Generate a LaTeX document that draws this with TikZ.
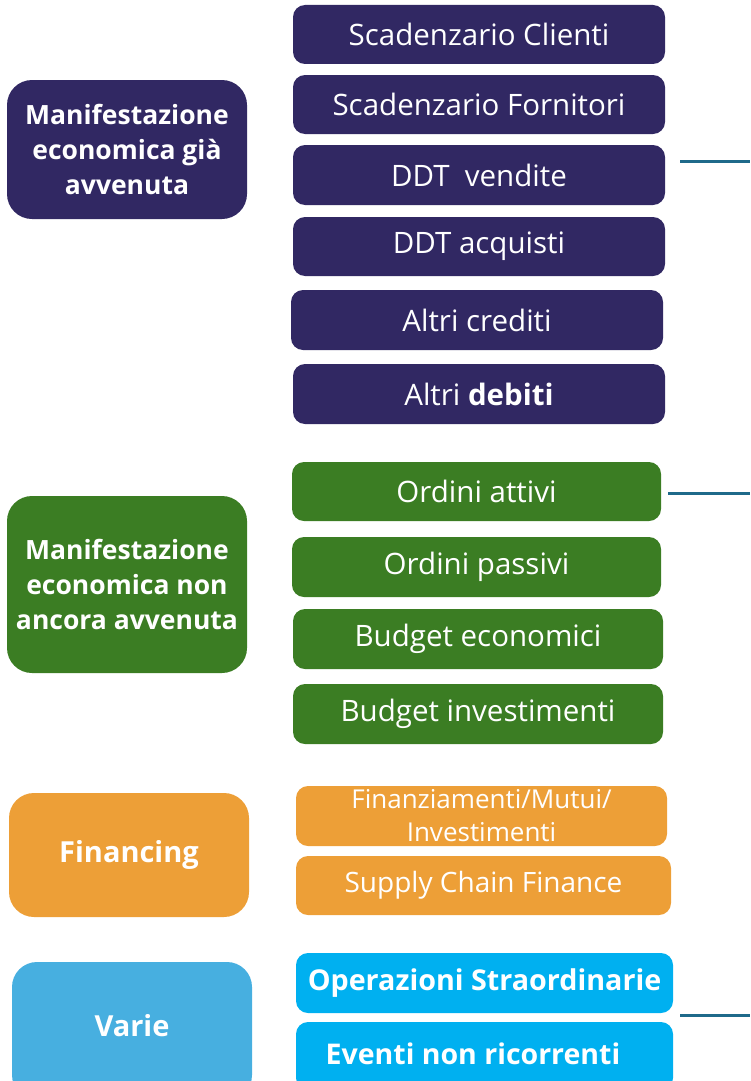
\documentclass[tikz,border=0pt]{standalone}
\usepackage{fontspec}
\setmainfont{Open Sans}
\usetikzlibrary{positioning}
\definecolor{cpurple}{HTML}{312863}
\definecolor{cgreen}{HTML}{3B7D23}
\definecolor{corange}{HTML}{ED9F37}
\definecolor{clblue}{HTML}{47AFE0}
\definecolor{ccyan}{HTML}{00B0F0}
\definecolor{cline}{HTML}{1F6A8A}
\tikzset{
  rbox/.style={rounded corners=12pt, text=white, inner sep=0pt, align=center,
    font=\fontsize{29.5}{34}\selectfont},
  lbox/.style={rounded corners=25pt, text=white, inner sep=0pt, align=center,
    minimum width=240pt, font=\fontsize{26.5}{35}\selectfont\bfseries},
  conn/.style={draw=cline, line width=3pt},
}
\begin{document}
\begin{tikzpicture}[x=1pt,y=-1pt]
\useasboundingbox (0,0) rectangle (750,1081);
\clip (0,0) rectangle (750,1081);
% purple group
\node[rbox, fill=cpurple, minimum width=372pt, minimum height=59pt] (sc) at (479,34.5) {Scadenzario Clienti};
\node[rbox, fill=cpurple, minimum width=372pt, minimum height=59pt] (sf) at (479,104.5) {Scadenzario Fornitori};
\node[rbox, fill=cpurple, minimum width=372pt, minimum height=60pt] (dv) at (479,175) {DDT\ \ vendite};
\node[rbox, fill=cpurple, minimum width=372pt, minimum height=59pt] (da) at (479,246.5) {DDT acquisti};
\node[rbox, fill=cpurple, minimum width=372pt, minimum height=60pt] (ac) at (477,320) {Altri crediti};
\node[rbox, fill=cpurple, minimum width=372pt, minimum height=60pt] (ad) at (479,394) {Altri \textbf{debiti}};
\node[lbox, fill=cpurple, minimum height=139pt] (l1) at (127,149.5) {Manifestazione\\economica già\\avvenuta};
% green group
\node[rbox, fill=cgreen, minimum width=369pt, minimum height=59pt] (oa) at (476.5,491.5) {Ordini attivi};
\node[rbox, fill=cgreen, minimum width=369pt, minimum height=60pt] (op) at (476.5,567) {Ordini passivi};
\node[rbox, fill=cgreen, minimum width=370pt, minimum height=60pt] (be) at (478,639) {Budget economici};
\node[rbox, fill=cgreen, minimum width=370pt, minimum height=60pt] (bi) at (478,714) {Budget investimenti};
\node[lbox, fill=cgreen, minimum height=177pt] (l2) at (127,584.5) {Manifestazione\\economica non\\ancora avvenuta};
% orange group
\node[rbox, fill=corange, minimum width=371pt, minimum height=60pt, font=\fontsize{26}{33}\selectfont] (fm) at (481.5,816) {Finanziamenti/Mutui/\\Investimenti};
\node[rbox, fill=corange, minimum width=375pt, minimum height=59pt, font=\fontsize{28}{32}\selectfont] (scf) at (483.5,885.5) {Supply Chain Finance};
\node[lbox, fill=corange, minimum height=124pt, font=\fontsize{29}{35}\selectfont\bfseries] (l3) at (129,855) {Financing};
% blue group
\node[rbox, fill=ccyan, minimum width=377pt, minimum height=60pt, font=\fontsize{28.7}{32}\selectfont\bfseries] (os) at (484.5,983) {Operazioni Straordinarie};
\node[rbox, fill=ccyan, minimum width=377pt, minimum height=68pt, font=\fontsize{28.5}{32}\selectfont\bfseries] (en) at (484.5,1056) {\raisebox{5pt}{Eventi non ricorrenti}\hspace*{23pt}};
\node[lbox, fill=clblue, minimum height=138pt, font=\fontsize{29}{35}\selectfont\bfseries] (l4) at (132,1031) {\raisebox{11pt}{Varie}};
% connectors
\coordinate (c1a) at (680,161);
\coordinate (c1b) at (750,161);
\coordinate (c2a) at (668,493);
\coordinate (c2b) at (750,493);
\coordinate (c3a) at (680,1015);
\coordinate (c3b) at (750,1015);
\draw[conn] (c1a) -- (c1b);
\draw[conn] (c2a) -- (c2b);
\draw[conn] (c3a) -- (c3b);
\end{tikzpicture}
\end{document}
